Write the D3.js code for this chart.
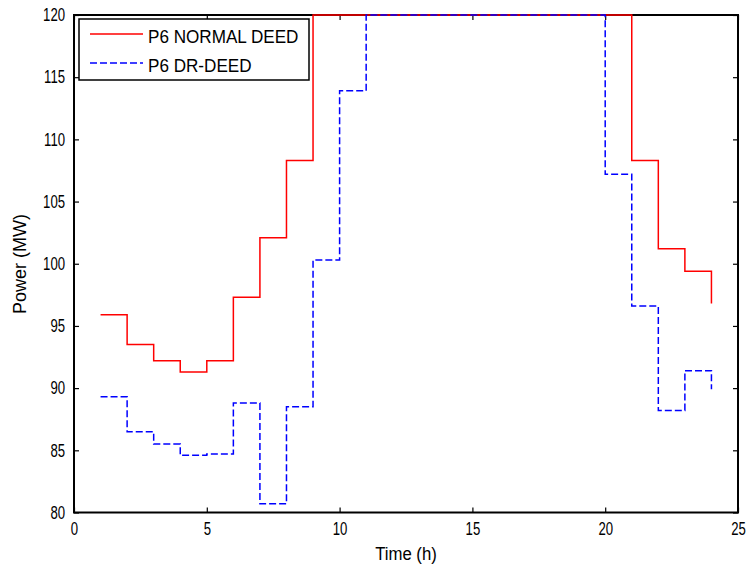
<!DOCTYPE html>
<html>
<head>
    <meta charset="utf-8">
    <title>P6 DEED</title>
    <style>
        body { margin: 0; background: white; }
        svg { display: block; }
        text { font-family: "Liberation Sans", Arial, sans-serif; fill: #000; }
    </style>
</head>
<body>
<script src="https://cdn.jsdelivr.net/npm/d3@7"></script>
<script>
    // heures 1..24
    var hours = d3.range(1, 25);
    // P6 (MW) - dispatch normal
    var p6Normal = [95.9, 93.5, 92.2, 91.3, 92.2, 97.3, 102.1, 108.3, 120, 120, 120, 120,
                    120, 120, 120, 120, 120, 120, 120, 120, 108.3, 101.2, 99.4, 96.8];
    // P6 (MW) - avec demand response
    var p6DR = [89.3, 86.5, 85.5, 84.6, 84.7, 88.8, 80.7, 88.5, 100.3, 113.9, 120, 120,
                120, 120, 120, 120, 120, 120, 120, 107.2, 96.6, 88.2, 91.4, 89.9];
    var xTicks = [0, 5, 10, 15, 20, 25];
    var yTicks = [80, 85, 90, 95, 100, 105, 110, 115, 120];
    var seriesNames = ["P6 NORMAL DEED", "P6 DR-DEED"];

    var width = 751, height = 565;
    // ("top" est reserve par window, d'ou les noms pLeft...)
    var pLeft = 74, pTop = 15, pRight = 738, pBottom = 512.5;

    var svg = d3.select("body").append("svg")
        .attr("width", width)
        .attr("height", height);

    var x = d3.scaleLinear().domain([0, 25]).range([pLeft, pRight]);
    var y = d3.scaleLinear().domain([80, 120]).range([pBottom, pTop]);

    // compresse le texte horizontalement
    function squeeze(sel, k) {
        sel.each(function() {
            var w = this.getComputedTextLength();
            d3.select(this).attr("textLength", w * k).attr("lengthAdjust", "spacingAndGlyphs");
        });
    }

    // axes (ticks vers l'interieur, comme matlab)
    var gx = svg.append("g").attr("transform", "translate(0," + pBottom + ")")
        .call(d3.axisBottom(x).tickValues(xTicks).tickSize(-5).tickPadding(10));
    var gy = svg.append("g").attr("transform", "translate(" + pLeft + ",0)")
        .call(d3.axisLeft(y).tickValues(yTicks).tickSize(-5).tickPadding(9));
    var gxt = svg.append("g").attr("transform", "translate(0," + pTop + ")")
        .call(d3.axisTop(x).tickValues(xTicks).tickSize(-5).tickFormat(""));
    var gyr = svg.append("g").attr("transform", "translate(" + pRight + ",0)")
        .call(d3.axisRight(y).tickValues(yTicks).tickSize(-5).tickFormat(""));

    [gx, gy, gxt, gyr].forEach(function(g) {
        g.select(".domain").remove();
        g.selectAll("line").attr("stroke", "#000").attr("stroke-width", 1.2);
        g.selectAll("text").style("font-size", "18px").attr("font-family", null);
    });
    squeeze(gx.selectAll("text"), 0.73);
    squeeze(gy.selectAll("text"), 0.73);

    svg.append("rect")
        .attr("x", pLeft).attr("y", pTop)
        .attr("width", pRight - pLeft).attr("height", pBottom - pTop)
        .attr("fill", "none").attr("stroke", "#000").attr("stroke-width", 2);

    // courbes en escalier
    var stairs = d3.line()
        .x(function(d) { return x(d[0]); })
        .y(function(d) { return y(d[1]); })
        .curve(d3.curveStepAfter);

    svg.append("path")
        .datum(hours.map(function(h, i) { return [h, p6Normal[i]]; }))
        .attr("d", stairs)
        .attr("fill", "none").attr("stroke", "#ff0000").attr("stroke-width", 1.5);

    svg.append("path")
        .datum(hours.map(function(h, i) { return [h, p6DR[i]]; }))
        .attr("d", stairs)
        .attr("fill", "none").attr("stroke", "#0000ff").attr("stroke-width", 1.5)
        .attr("stroke-dasharray", "7,3");

    // legende
    var leg = svg.append("g");
    leg.append("rect")
        .attr("x", 79).attr("y", 19).attr("width", 230).attr("height", 61)
        .attr("fill", "white").attr("stroke", "#000").attr("stroke-width", 1.5);
    var legColors = ["#ff0000", "#0000ff"];
    var legDash = [null, "7,3"];
    seriesNames.forEach(function(name, i) {
        var ly = 34 + i * 29;
        leg.append("line")
            .attr("x1", 90).attr("x2", 143).attr("y1", ly).attr("y2", ly)
            .attr("stroke", legColors[i]).attr("stroke-width", 1.5)
            .attr("stroke-dasharray", legDash[i]);
        var t = leg.append("text")
            .attr("x", 148).attr("y", ly + 9)
            .style("font-size", "19px")
            .text(name);
        squeeze(t, 0.9);
    });

    // titres des axes
    var xl = svg.append("text")
        .attr("x", (pLeft + pRight) / 2).attr("y", 560)
        .attr("text-anchor", "middle")
        .style("font-size", "18px")
        .text("Time (h)");
    squeeze(xl, 0.93);

    svg.append("text")
        .attr("transform", "translate(26,264) rotate(-90)")
        .attr("text-anchor", "middle")
        .style("font-size", "18px")
        .text("Power (MW)");
</script>
</body>
</html>
